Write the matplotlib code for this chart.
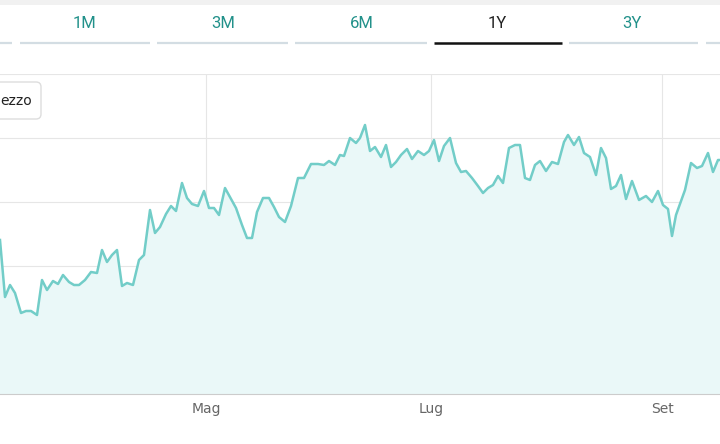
import matplotlib
matplotlib.use('Agg')
import matplotlib.pyplot as plt
from matplotlib.patches import FancyBboxPatch

# price series (x = day position, y = price, arbitrary units)
day = [0, 5, 10, 15, 21, 26, 31, 37, 42, 47, 53, 58, 63, 69, 74, 79, 85, 91, 97, 102,
       107, 112, 117, 122, 127, 133, 139, 144, 150, 155, 160, 166, 171, 176, 182, 187,
       192, 198, 204, 209, 214, 219, 225, 231, 236, 242, 247, 252, 257, 263, 269, 274,
       279, 285, 291, 298, 304, 311, 318, 324, 329, 335, 340, 344, 350, 356, 360, 365,
       370, 375, 381, 386, 391, 396, 401, 407, 412, 418, 424, 429, 434, 439, 444, 450,
       456, 461, 466, 472, 478, 483, 488, 493, 498, 503, 509, 515, 520, 525, 530, 535,
       540, 546, 552, 558, 564, 568, 574, 579, 584, 590, 596, 601, 606, 611, 616, 621,
       626, 632, 639, 646, 652, 658, 663, 668, 672, 676, 685, 691, 697, 702, 708, 713,
       718, 720]
ypix = [240, 297, 285, 293, 313, 311, 311, 315, 280, 290, 281, 284, 275, 282, 285, 285,
        280, 272, 273, 250, 262, 255, 250, 286, 283, 285, 260, 255, 210, 233, 227, 214,
        206, 211, 183, 198, 204, 206, 191, 208, 208, 215, 188, 199, 208, 225, 238, 238,
        212, 198, 198, 207, 217, 222, 206, 178, 178, 164, 164, 165, 161, 165, 155, 156,
        138, 143, 138, 125, 151, 147, 157, 145, 167, 162, 155, 149, 159, 151, 155, 151,
        140, 161, 146, 138, 163, 172, 171, 178, 186, 193, 188, 185, 176, 183, 148, 145,
        145, 178, 180, 165, 161, 171, 162, 164, 142, 135, 145, 137, 153, 157, 175, 148,
        158, 189, 186, 175, 199, 181, 200, 196, 202, 191, 205, 209, 236, 215, 190, 163,
        168, 166, 153, 172, 160, 160]
price = [394 - v for v in ypix]

month_pos = [206, 431, 662]
month_labels = ['Mag', 'Lug', 'Set']
tabs = ['1M', '3M', '6M', '1Y', '3Y']
tab_x = [85, 223, 362, 497, 632]
tab_segments = [(0, 12), (20, 150), (157, 288), (295, 427), (434, 562), (569, 698), (706, 720)]

W, H = 720, 444
fig = plt.figure(figsize=(7.2, 4.44), dpi=100)
fig.patch.set_facecolor('white')

ax = fig.add_axes([0, (H - 394) / H, 1, 320 / H])
ax.set_xlim(0, 720)
ax.set_ylim(0, 320)
ax.fill_between(day, price, 0, color='#eaf8f8', lw=0)
ax.plot(day, price, color='#72cdc8', lw=1.8)
ax.set_yticks(range(0, 321, 64))
ax.set_yticklabels([])
ax.tick_params(axis='y', length=0)
ax.set_xticks(month_pos)
ax.set_xticklabels(month_labels, fontsize=10, color='#666666')
ax.tick_params(axis='x', length=0, pad=6)
ax.grid(True, color='#e6e6e6', lw=0.8)
ax.set_axisbelow(True)
for s in ['top', 'left', 'right']:
    ax.spines[s].set_visible(False)
ax.spines['bottom'].set_color('#cccccc')

# overlay: tab bar and clipped legend box
top = fig.add_axes([0, 0, 1, 1])
top.set_xlim(0, W)
top.set_ylim(H, 0)
top.axis('off')
top.patch.set_alpha(0)
top.add_patch(plt.Rectangle((0, 0), W, 5, color='#f1f1f1', lw=0))
for x, t in zip(tab_x, tabs):
    top.text(x, 24, t, ha='center', va='center', fontsize=12, family='Roboto',
             color='#222222' if t == '1Y' else '#22918a')
for a, b in tab_segments:
    if a == 434:
        top.plot([a, b], [43, 43], color='#111111', lw=1.8, solid_capstyle='butt')
    else:
        top.plot([a, b], [43, 43], color='#d3dde3', lw=1.6, solid_capstyle='butt')

top.add_patch(FancyBboxPatch((-20, 82), 61, 37, boxstyle='round,pad=0,rounding_size=5',
                             fc='white', ec='#dddddd', lw=1, zorder=10))
top.text(0, 101, 'ezzo', ha='left', va='center', fontsize=10, color='#222222', zorder=11)

fig.savefig('out.png', dpi=100)
